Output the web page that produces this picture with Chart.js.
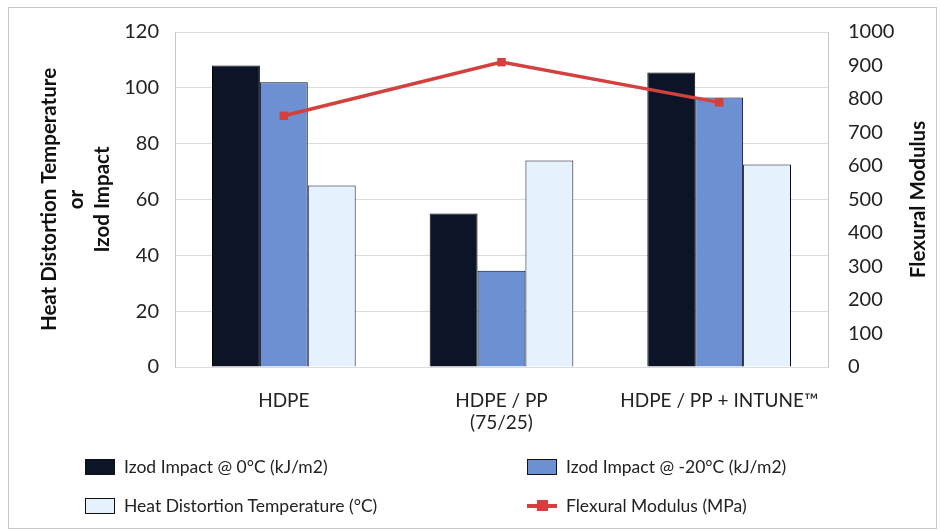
<!DOCTYPE html>
<html>
<head>
<meta charset="utf-8">
<script src="https://cdn.jsdelivr.net/npm/chart.js@4.4.1/dist/chart.umd.min.js"></script>
<style>
  html, body { margin: 0; padding: 0; background: #fff; }
  #wrap { position: relative; width: 940px; height: 531px; font-family: Lato, "Open Sans", sans-serif; }
  #frame { position: absolute; left: 8px; top: 7px; right: 3px; bottom: 2px; border: 1px solid #c8c8c8; pointer-events: none; }
  #legend { position: absolute; left: 0; top: 456px; width: 940px; }
  .item { position: absolute; display: flex; align-items: center; font-size: 17.5px; color: #222; }
  .box { width: 30px; height: 16px; border: 1px solid #111; margin-right: 9px; box-sizing: border-box; }
  .lineicon { position: relative; width: 30px; height: 16px; margin-right: 9px; }
  .lineicon i { position: absolute; left: 0; right: 0; top: 6px; height: 4px; }
  .lineicon b { position: absolute; left: 10px; top: 2px; width: 11px; height: 11px; }
</style>
</head>
<body>
<div id="wrap">
  <canvas id="chart" width="940" height="531"></canvas>
  <div id="frame"></div>
  <div id="legend"></div>
</div>
<script>
  // categories and series
  const categories = ["HDPE", ["HDPE / PP", "(75/25)"], "HDPE / PP + INTUNE™"];
  const izod0 = [108, 55, 105.5];
  const izod20 = [102, 34.5, 96.5];
  const hdt = [65, 74, 72.5];
  const flexModulus = [750, 910, 790];

  const leftTicks = [0, 20, 40, 60, 80, 100, 120];
  const rightTicks = [0, 100, 200, 300, 400, 500, 600, 700, 800, 900, 1000];

  const red = "#d3403d";
  const rightTitle = "Flexural Modulus";

  // right axis title reads bottom-to-top like the left one
  const rightTitlePlugin = {
    id: "rightTitle",
    afterDraw(chart) {
      const s = chart.scales.y1;
      const ctx = chart.ctx;
      const area = chart.chartArea;
      ctx.save();
      ctx.translate(s.right - 22, (area.top + area.bottom) / 2);
      ctx.rotate(-Math.PI / 2);
      ctx.font = "bold 20.5px Lato";
      ctx.fillStyle = "#111";
      ctx.textAlign = "center";
      ctx.textBaseline = "middle";
      ctx.fillText(rightTitle, 0, 0);
      ctx.restore();
    },
  };

  const chart = new Chart(document.getElementById("chart"), {
    type: "bar",
    data: {
      labels: categories,
      datasets: [
        {
          type: "line",
          label: "Flexural Modulus (MPa)",
          data: flexModulus,
          yAxisID: "y1",
          borderColor: red,
          backgroundColor: red,
          borderWidth: 3.5,
          pointStyle: "rect",
          pointRadius: 6,
          pointBorderWidth: 0,
          order: 0,
        },
        {
          label: "Izod Impact @ 0°C (kJ/m2)",
          data: izod0,
          backgroundColor: "#0c1428",
          borderColor: "#000",
          borderWidth: 1,
          order: 1,
        },
        {
          label: "Izod Impact @ -20°C (kJ/m2)",
          data: izod20,
          backgroundColor: "#6d90d2",
          borderColor: "#0a0a20",
          borderWidth: 1,
          order: 1,
        },
        {
          label: "Heat Distortion Temperature (°C)",
          data: hdt,
          backgroundColor: "#e5f1fc",
          borderColor: "#0a0a20",
          borderWidth: 1,
          order: 1,
        },
      ],
    },
    options: {
      responsive: false,
      animation: false,
      layout: { padding: { top: 30, bottom: 84, left: 0, right: 0 } },
      datasets: { bar: { categoryPercentage: 0.66, barPercentage: 1.0 } },
      plugins: { legend: { display: false }, tooltip: { enabled: false } },
      scales: {
        x: {
          grid: { display: false },
          border: { display: false },
          ticks: { color: "#222", font: { family: "Lato", size: 19 }, padding: 14, maxRotation: 0, autoSkip: false },
          afterFit: (s) => { s.height = 80; },
        },
        y: {
          position: "left",
          min: 0,
          max: 120,
          afterBuildTicks: (s) => { s.ticks = leftTicks.map((v) => ({ value: v })); },
          grid: { color: "#dcdcdc", drawTicks: false },
          border: { display: true, color: "#c8c8c8" },
          ticks: { color: "#222", font: { family: "Lato", size: 20 }, padding: 16 },
          title: {
            display: true,
            text: ["Heat Distortion Temperature", "or", "Izod Impact"],
            color: "#111",
            font: { family: "Lato", size: 20.5, weight: "bold", lineHeight: 1.3 },
            padding: { top: 36, bottom: 0 },
          },
          afterFit: (s) => { s.width = 175; },
        },
        y1: {
          position: "right",
          min: 0,
          max: 1000,
          afterBuildTicks: (s) => { s.ticks = rightTicks.map((v) => ({ value: v })); },
          grid: { display: false, drawTicks: false },
          border: { display: true, color: "#c8c8c8" },
          ticks: { color: "#222", font: { family: "Lato", size: 20 }, padding: 20, callback: (v) => String(v) },
          title: { display: false },
          afterFit: (s) => { s.width = 112; },
        },
      },
    },
    plugins: [rightTitlePlugin],
  });

  // legend in two columns, built from the chart's datasets
  const legendOrder = [1, 2, 3, 0];
  const spots = [[85, 0], [527, 0], [85, 39], [527, 39]];
  const legend = document.getElementById("legend");
  legendOrder.forEach((di, k) => {
    const ds = chart.data.datasets[di];
    const el = document.createElement("div");
    el.className = "item";
    el.style.left = spots[k][0] + "px";
    el.style.top = spots[k][1] + "px";
    let icon;
    if (ds.type === "line") {
      icon = `<span class="lineicon"><i style="background:${ds.borderColor}"></i><b style="background:${ds.borderColor}"></b></span>`;
    } else {
      icon = `<span class="box" style="background:${ds.backgroundColor}"></span>`;
    }
    el.innerHTML = icon + `<span>${ds.label}</span>`;
    legend.appendChild(el);
  });
</script>
</body>
</html>
